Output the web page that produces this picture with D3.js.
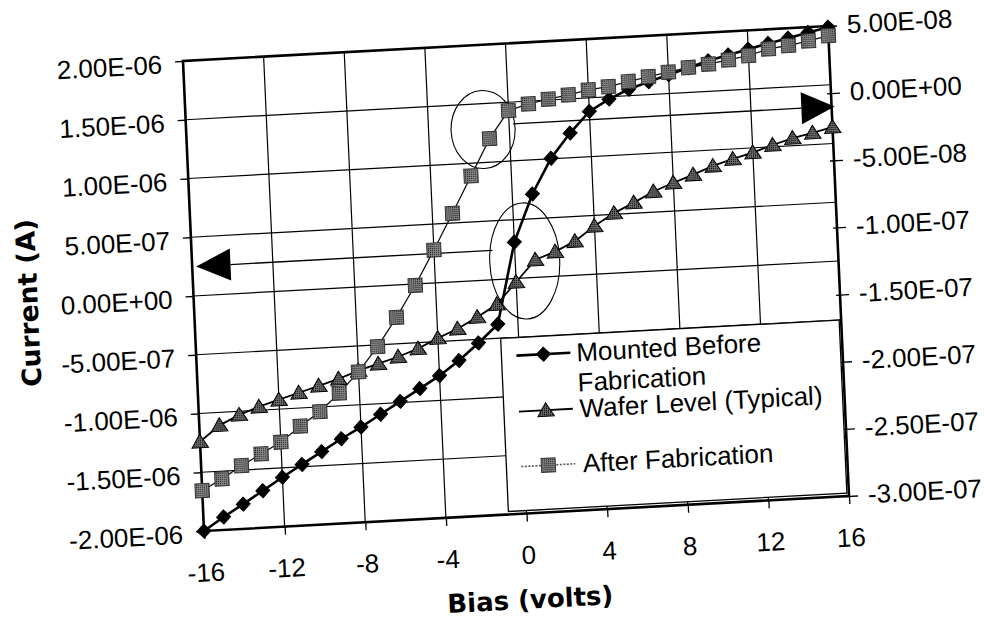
<!DOCTYPE html>
<html>
<head>
<meta charset="utf-8">
<script src="https://cdn.jsdelivr.net/npm/d3@7"></script>
<style>
    body { margin: 0; background: #fff; }
</style>
</head>
<body>
<div id="chart"></div>
<script>
// bias in volts, currents in amps
var bias = [-16, -15, -14, -13, -12, -11, -10, -9, -8, -7, -6, -5, -4, -3, -2, -1, 0,
    1, 2, 3, 4, 5, 6, 7, 8, 9, 10, 11, 12, 13, 14, 15, 16];

// left axis
var mounted = [-2.00e-6, -1.89e-6, -1.79e-6, -1.685e-6, -1.58e-6, -1.48e-6, -1.38e-6, -1.28e-6,
    -1.19e-6, -1.09e-6, -0.99e-6, -0.89e-6, -0.79e-6, -0.67e-6, -0.53e-6, -0.38e-6, 0.31e-6,
    0.71e-6, 1.005e-6, 1.21e-6, 1.385e-6, 1.48e-6, 1.555e-6, 1.61e-6, 1.66e-6, 1.71e-6,
    1.76e-6, 1.80e-6, 1.84e-6, 1.88e-6, 1.915e-6, 1.955e-6, 1.99e-6];

// left axis
var wafer = [-1.24e-6, -1.11e-6, -1.03e-6, -0.97e-6, -0.92e-6, -0.87e-6, -0.82e-6, -0.77e-6,
    -0.71e-6, -0.66e-6, -0.61e-6, -0.55e-6, -0.47e-6, -0.40e-6, -0.31e-6, -0.21e-6, -0.03e-6,
    0.15e-6, 0.21e-6, 0.29e-6, 0.41e-6, 0.51e-6, 0.59e-6, 0.675e-6, 0.74e-6, 0.80e-6,
    0.865e-6, 0.915e-6, 0.96e-6, 1.015e-6, 1.065e-6, 1.10e-6, 1.14e-6];

// right axis
var afterFab = [-2.70e-7, -2.62e-7, -2.53e-7, -2.45e-7, -2.37e-7, -2.26e-7, -2.16e-7, -2.03e-7,
    -1.88e-7, -1.70e-7, -1.49e-7, -1.26e-7, -1.005e-7, -0.74e-7, -0.47e-7, -0.20e-7, 0.00,
    0.042e-7, 0.069e-7, 0.093e-7, 0.122e-7, 0.138e-7, 0.168e-7, 0.197e-7, 0.221e-7, 0.248e-7,
    0.265e-7, 0.289e-7, 0.312e-7, 0.354e-7, 0.371e-7, 0.397e-7, 0.429e-7];

var xTicks = [-16, -12, -8, -4, 0, 4, 8, 12, 16];
var leftTicks = [-2e-6, -1.5e-6, -1e-6, -5e-7, 0, 5e-7, 1e-6, 1.5e-6, 2e-6];
var rightTicks = [-3e-7, -2.5e-7, -2e-7, -1.5e-7, -1e-7, -5e-8, 0, 5e-8];
var legendLabels = [["Mounted Before", "Fabrication"], ["Wafer Level (Typical)"], ["After Fabrication"]];

// the two circled spots and the arrows telling which axis goes with which curve
var rings = [{ x: -1.3, y: 1.28e-6 }, { x: 0.47, y: 0.145e-6 }];
var leftArrow = { y: 2.5e-7, tip: -15.8, base: -14.1, end: -1.1 };
var rightArrow = { y: -1.0e-8, start: 0.2, base: 14.5, tip: 16.15 };

var width = 646;
var height = 470;
var font = "'Liberation Sans', Arial, sans-serif";
var boldFont = "'DejaVu Sans', sans-serif";

var svg = d3.select('#chart')
    .append('svg')
    .attr('width', 984)
    .attr('height', 619);

var defs = svg.append('defs');
var p1 = defs.append('pattern').attr('id', 'dotLight')
    .attr('width', 2).attr('height', 2).attr('patternUnits', 'userSpaceOnUse');
p1.append('rect').attr('width', 2).attr('height', 2).attr('fill', '#858585');
p1.append('rect').attr('width', 1).attr('height', 1).attr('fill', '#1a1a1a');
var p2 = defs.append('pattern').attr('id', 'dotDark')
    .attr('width', 2).attr('height', 2).attr('patternUnits', 'userSpaceOnUse');
p2.append('rect').attr('width', 2).attr('height', 2).attr('fill', '#6a6a6a');
p2.append('rect').attr('width', 1).attr('height', 1).attr('fill', '#000');

// scanned page is tilted a few degrees
var g = svg.append('g')
    .attr('transform', 'matrix(0.99845,-0.05418,0.04468,1,183,61)');

var x = d3.scaleLinear().domain([-16, 16]).range([0, width]);
var yL = d3.scaleLinear().domain([-2e-6, 2e-6]).range([height, 0]);
var yR = d3.scaleLinear().domain([-3e-7, 5e-8]).range([height, 0]);

function sci(v) {
    var parts = v.toExponential(2).split('e');
    var e = parts[1];
    return parts[0] + 'E' + e[0] + e.slice(1).padStart(2, '0');
}

// grid
g.append('g').selectAll('line')
    .data(xTicks.slice(1, -1))
    .enter().append('line')
    .attr('x1', d => x(d)).attr('x2', d => x(d))
    .attr('y1', 0).attr('y2', height)
    .attr('stroke', '#000').attr('stroke-width', 1.2);
g.append('g').selectAll('line')
    .data(leftTicks.slice(1, -1))
    .enter().append('line')
    .attr('y1', d => yL(d)).attr('y2', d => yL(d))
    .attr('x1', 0).attr('x2', width)
    .attr('stroke', '#000').attr('stroke-width', 1.2);

// axes
var xAxis = g.append('g')
    .attr('transform', 'translate(0,' + height + ')')
    .call(d3.axisBottom(x).tickValues(xTicks).tickSize(8).tickPadding(24).tickFormat(d => String(d)));
var leftAxis = g.append('g')
    .call(d3.axisLeft(yL).tickValues(leftTicks).tickSize(8).tickPadding(13).tickFormat(sci));
var rightAxis = g.append('g')
    .attr('transform', 'translate(' + width + ',0)')
    .call(d3.axisRight(yR).tickValues(rightTicks).tickSize(9).tickPadding(10).tickFormat(sci));
rightAxis.selectAll('.tick line').attr('x1', -4);
leftAxis.selectAll('.tick text').attr('dy', '0.42em');
rightAxis.selectAll('.tick text').attr('dy', '0.3em');

[xAxis, leftAxis, rightAxis].forEach(function (a) {
    a.select('.domain').remove();
    a.attr('font-family', font).attr('font-size', 26);
    a.selectAll('.tick line').attr('stroke-width', 1.3);
});

g.append('rect')
    .attr('width', width).attr('height', height)
    .attr('fill', 'none').attr('stroke', '#000').attr('stroke-width', 2.6);

// arrows
g.append('line')
    .attr('x1', x(leftArrow.base)).attr('x2', x(leftArrow.end))
    .attr('y1', yL(leftArrow.y)).attr('y2', yL(leftArrow.y))
    .attr('stroke', '#000').attr('stroke-width', 1.3);
g.append('path')
    .attr('d', 'M' + x(leftArrow.tip) + ',' + yL(leftArrow.y) + 'L' + x(leftArrow.base) + ',' + (yL(leftArrow.y) - 16) +
        'L' + x(leftArrow.base) + ',' + (yL(leftArrow.y) + 16) + 'Z')
    .attr('fill', '#000');
g.append('line')
    .attr('x1', x(rightArrow.start)).attr('x2', x(rightArrow.base))
    .attr('y1', yR(rightArrow.y)).attr('y2', yR(rightArrow.y))
    .attr('stroke', '#000').attr('stroke-width', 1.3);
g.append('path')
    .attr('d', 'M' + x(rightArrow.tip) + ',' + yR(rightArrow.y) + 'L' + x(rightArrow.base) + ',' + (yR(rightArrow.y) - 16) +
        'L' + x(rightArrow.base) + ',' + (yR(rightArrow.y) + 16) + 'Z')
    .attr('fill', '#000');

// rings
var ringSize = [[32, 39], [35, 58]];
g.append('g').selectAll('ellipse')
    .data(rings)
    .enter().append('ellipse')
    .attr('cx', d => x(d.x)).attr('cy', d => yL(d.y))
    .attr('rx', (d, i) => ringSize[i][0]).attr('ry', (d, i) => ringSize[i][1])
    .attr('fill', 'none').attr('stroke', '#000').attr('stroke-width', 1.1);

// marker shapes
function diamond(r) { return 'M0,' + (-r) + 'L' + r + ',0L0,' + r + 'L' + (-r) + ',0Z'; }
function triangle(r) { return 'M0,' + (-r) + 'L' + (r * 1.1) + ',' + (r * 0.8) + 'L' + (-r * 1.1) + ',' + (r * 0.8) + 'Z'; }
function square(r) { return 'M' + (-r) + ',' + (-r) + 'h' + (2 * r) + 'v' + (2 * r) + 'h' + (-2 * r) + 'Z'; }

var series = [
    { values: mounted, y: yL, shape: diamond(7), fill: '#000', mstroke: '#000', lw: 2.6, lcol: '#000' },
    { values: wafer, y: yL, shape: triangle(7.5), fill: 'url(#dotDark)', mstroke: '#000', lw: 1.8, lcol: '#000' },
    { values: afterFab, y: yR, shape: square(7), fill: 'url(#dotLight)', mstroke: '#333', lw: 1.3, lcol: '#111' }
];

series.forEach(function (s) {
    var pts = bias.map((b, i) => [b, s.values[i]]);
    var line = d3.line().x(d => x(d[0])).y(d => s.y(d[1]));
    g.append('path')
        .attr('d', line(pts))
        .attr('fill', 'none')
        .attr('stroke', s.lcol)
        .attr('stroke-width', s.lw);
    g.append('g').selectAll('path')
        .data(pts)
        .enter().append('path')
        .attr('transform', d => 'translate(' + x(d[0]) + ',' + s.y(d[1]) + ')')
        .attr('d', s.shape)
        .attr('fill', s.fill)
        .attr('stroke', s.mstroke)
        .attr('stroke-width', 1);
});

// legend
var leg = g.append('g').attr('transform', 'translate(305,294)');
leg.append('rect')
    .attr('width', 339).attr('height', 173)
    .attr('fill', '#fff').attr('stroke', '#000').attr('stroke-width', 1.3);
var legRows = [18, 74, 129];
legendLabels.forEach(function (lab, i) {
    var s = series[i];
    var row = leg.append('g').attr('transform', 'translate(0,' + legRows[i] + ')');
    row.append('line')
        .attr('x1', 15).attr('x2', 69)
        .attr('stroke', i == 2 ? '#555' : '#000')
        .attr('stroke-width', i == 0 ? 2.6 : (i == 1 ? 1.8 : 1.6))
        .attr('stroke-dasharray', i == 2 ? '2,1.5' : null);
    row.append('path')
        .attr('transform', 'translate(42,0)')
        .attr('d', s.shape)
        .attr('fill', s.fill)
        .attr('stroke', s.mstroke)
        .attr('stroke-width', 1);
    lab.forEach(function (t, j) {
        row.append('text')
            .attr('x', 75 + i * 0.8)
            .attr('y', 9 + j * 30)
            .attr('font-family', font)
            .attr('font-size', 26)
            .text(t);
    });
});

// titles
g.append('text')
    .attr('transform', 'translate(-156,233) rotate(-90)')
    .attr('text-anchor', 'middle')
    .attr('font-family', boldFont)
    .attr('font-weight', 'bold')
    .attr('font-size', 26.5)
    .text('Current (A)');
g.append('text')
    .attr('x', 323).attr('y', 565)
    .attr('text-anchor', 'middle')
    .attr('font-family', boldFont)
    .attr('font-weight', 'bold')
    .attr('font-size', 26)
    .text('Bias (volts)');
</script>
</body>
</html>
